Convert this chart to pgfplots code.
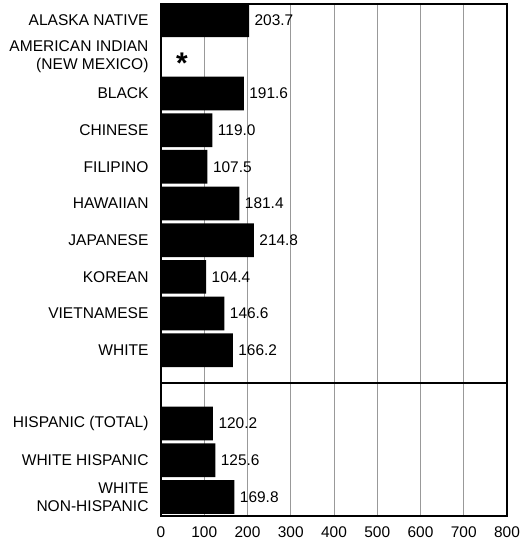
\documentclass[border=0pt]{standalone}
\usepackage{fontspec}
\setmainfont{Liberation Sans}
\usepackage{pgfplots}
\pgfplotsset{compat=1.18}
\begin{document}
\begin{tikzpicture}
\begin{axis}[
  scale only axis, width=346bp, height=512bp,
  xbar, bar width=0.92, bar shift=0pt, y dir=reverse,
  xmin=0, xmax=800, ymin=-0.44, ymax=13.52,
  xtick={0,100,...,800},
  xmajorgrids, major grid style={gray!80, line width=0.6pt},
  ytick={0,1,2,3,4,5,6,7,8,9,11,12,13},
  yticklabels={ALASKA NATIVE,{AMERICAN INDIAN\\(NEW MEXICO)},BLACK,CHINESE,FILIPINO,HAWAIIAN,JAPANESE,KOREAN,VIETNAMESE,WHITE,HISPANIC (TOTAL),WHITE HISPANIC,{WHITE\\NON-HISPANIC}},
  yticklabel style={align=right, font=\fontsize{15.6}{18}\selectfont, xshift=-9bp},
  xticklabel style={font=\fontsize{15.5}{17}\selectfont, yshift=-7bp},
  /pgf/number format/assume math mode=true,
  major tick length=0pt,
  axis line style={line width=1.6pt},
  extra y ticks={9.9}, extra y tick labels={},
  extra y tick style={ymajorgrids=true, major grid style={black, line width=1.6pt}},
  nodes near coords,
  every node near coord/.append style={font=\fontsize{15.5}{17}\selectfont, anchor=west, xshift=2bp},
]
\addplot[fill=black, draw=none,
  nodes near coords={\pgfmathprintnumber[fixed,fixed zerofill,precision=1]{\pgfplotspointmeta}}]
  coordinates {(203.7,0) (191.6,2) (119.0,3) (107.5,4) (181.4,5) (214.8,6) (104.4,7) (146.6,8) (166.2,9) (120.2,11) (125.6,12) (169.8,13)};
\addplot[fill=none, draw=none,
  nodes near coords={\fontsize{30}{30}\selectfont\bfseries *},
  every node near coord/.append style={anchor=center, xshift=19bp, yshift=-6bp}]
  coordinates {(0,1)};
\end{axis}
\path ([yshift=4bp]current axis.north);
\path ([xshift=-161bp]current axis.west);
\path ([yshift=-26bp]current axis.south);
\end{tikzpicture}
\end{document}
